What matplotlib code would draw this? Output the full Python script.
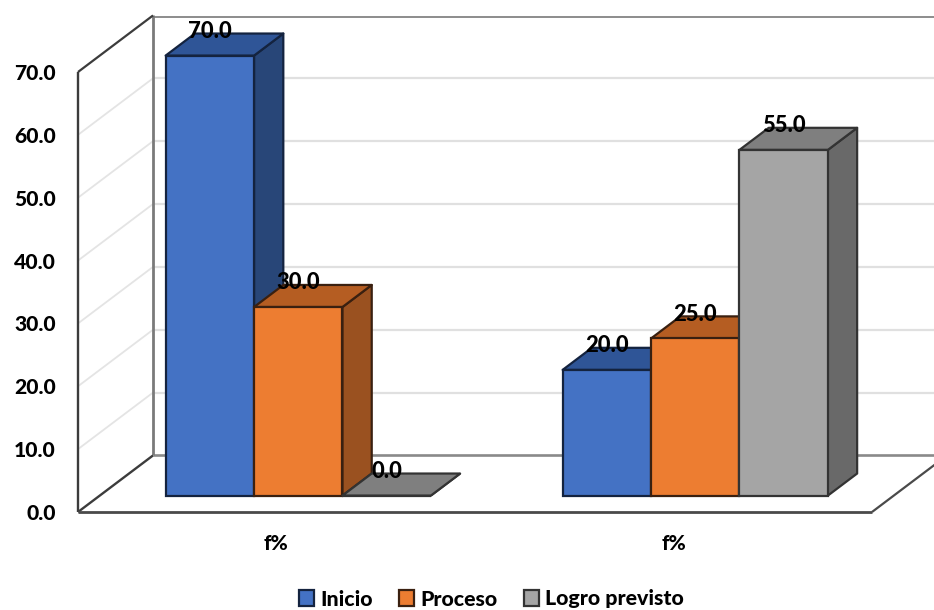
import matplotlib
matplotlib.use("Agg")
import matplotlib.pyplot as plt

categories = ["f%", "f%"]
series_names = ["Inicio", "Proceso", "Logro previsto"]
inicio = [70.0, 20.0]
proceso = [30.0, 25.0]
logro = [0.0, 55.0]
y_ticks = [0, 10, 20, 30, 40, 50, 60, 70]

FRONT = ["#4472C4", "#ED7D31", "#A5A5A5"]
TOP = ["#2F5597", "#B55D22", "#7F7F7F"]
SIDE = ["#284678", "#9A5120", "#696969"]
EDGE = ["#14233f", "#3a2010", "#333333"]

W, H = 934, 610
WEIGHT = 900
plt.rcParams["font.family"] = ["Lato", "DejaVu Sans"]
plt.rcParams["font.weight"] = WEIGHT

fig = plt.figure(figsize=(W / 100, H / 100), dpi=100)
ax = fig.add_axes([78 / W, (H - 512) / H, 794 / W, 440 / H])
ax.set_xlim(-0.5, 1.5)
ax.set_ylim(0, 70)
for s in ax.spines.values():
    s.set_visible(False)

DX, DY = 0.189, 9.0          # full floor depth in data units
BAR_W = 0.2227
D0, D1 = 0.29, 0.68          # bar front/back depth as share of floor depth
XL, XR = -0.5, 1.5


def line(xs, ys, **kw):
    ax.plot(xs, ys, clip_on=False, solid_capstyle="butt", **kw)


# gridlines: back wall + side wall
for v in y_ticks[1:-1]:
    line([XL + DX, XR + DX], [v + DY, v + DY], color="#e0e0e0", lw=1.6, zorder=1)
    line([XL, XL + DX], [v, v + DY], color="#e4e4e4", lw=1.3, zorder=1)

# walls and floor
line([XL + DX, XR + DX], [70 + DY - 0.2] * 2, color="#8c8c8c", lw=1.4, zorder=1)
line([XL + DX, XR + DX], [DY, DY], color="#8a8a8a", lw=1.9, zorder=1)
line([XL + DX, XL + DX], [DY, 70 + DY], color="#7a7a7a", lw=2.0, zorder=2)
line([XL, XL], [0, 70], color="#3c3c3c", lw=1.7, zorder=2)
line([XL, XL + DX], [70, 70 + DY], color="#3c3c3c", lw=1.6, zorder=2)
line([XL, XL + DX], [0, DY], color="#3c3c3c", lw=1.7, zorder=2)
line([XL, XR], [0, 0], color="#4a4a4a", lw=2.0, zorder=2)
line([XR, XR + DX], [0, DY], color="#4a4a4a", lw=1.6, zorder=2)

# 3D bars
all_series = [inicio, proceso, logro]
base = D0 * DY
shift_x = D0 * DX
depth_x = (D1 - D0) * DX
depth_y = (D1 - D0) * DY
z = 3
for cat_i in range(len(categories)):
    for s_i, vals in enumerate(all_series):
        v = vals[cat_i]
        left = cat_i + shift_x + (s_i - 1.5) * BAR_W
        right = left + BAR_W
        top = base + v
        kw = dict(edgecolor=EDGE[s_i], linewidth=1.6, clip_on=False, joinstyle="round")
        ax.fill([right, right + depth_x, right + depth_x, right],
                [base, base + depth_y, top + depth_y, top],
                facecolor=SIDE[s_i], zorder=z, **kw)
        ax.fill([left, right, right + depth_x, left + depth_x],
                [top, top, top + depth_y, top + depth_y],
                facecolor=TOP[s_i], zorder=z, **kw)
        ax.bar(left, v, width=BAR_W, bottom=base, align="edge", color=FRONT[s_i],
               label=series_names[s_i] if cat_i == 0 else None, zorder=z + 0.5,
               clip_on=False, **{k: kw[k] for k in ("edgecolor", "linewidth")})
        z += 1

# data labels (drawn over everything)
for cat_i in range(len(categories)):
    for s_i, vals in enumerate(all_series):
        v = vals[cat_i]
        cx = cat_i + shift_x + (s_i - 1.0) * BAR_W
        ax.annotate(f"{v:.1f}", (cx, base + v), xytext=(0, 17.3),
                    textcoords="offset points", ha="center", va="center",
                    fontsize=15.8, fontweight=WEIGHT, color="black", zorder=50,
                    annotation_clip=False)

ax.set_yticks(y_ticks)
ax.set_yticklabels([f"{v:.1f}" for v in y_ticks], fontsize=15.2, fontweight=WEIGHT)
ax.set_xticks(range(len(categories)))
ax.set_xticklabels(categories, fontsize=15, fontweight=WEIGHT)
ax.tick_params(axis="y", length=0, pad=16)
ax.tick_params(axis="x", length=0, pad=16)

handles, labels = ax.get_legend_handles_labels()
fig.legend(handles, labels, loc="center", bbox_to_anchor=(491.5 / W, 1 - 599 / H),
           ncol=3, frameon=False, handlelength=0.72, handleheight=0.72,
           handletextpad=0.3, columnspacing=1.2, borderpad=0, labelspacing=0,
           prop={"weight": WEIGHT, "size": 15.4})

fig.savefig("out.png", dpi=100)
